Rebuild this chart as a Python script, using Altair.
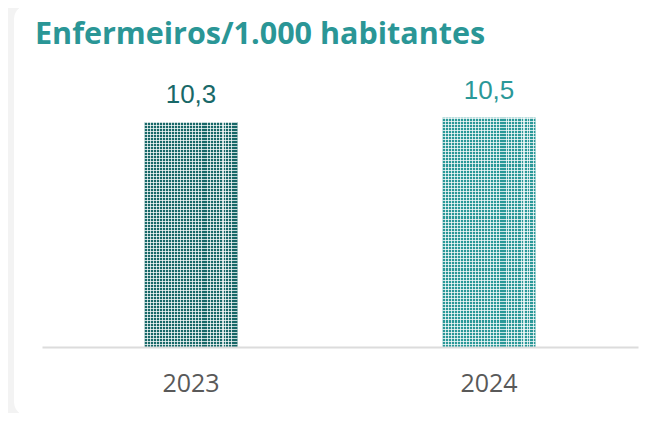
import altair as alt
import pandas as pd

years = ["2023", "2024"]
values = [10.3, 10.5]
labels = ["10,3", "10,5"]
bar_colors = ["#186868", "#2a9898"]
title_text = "Enfermeiros/1.000 habitantes"

df = pd.DataFrame({"year": years, "value": values, "label": labels, "color": bar_colors})

W, H = 596, 267


def stripes(n, vertical, alpha):
    stops = []
    for k in range(n):
        a = k / n
        b = (k + 1.0 / 3.0) / n
        c = (k + 1) / n
        stops += [
            alt.GradientStop(offset=a, color=f"rgba(255,255,255,{alpha})"),
            alt.GradientStop(offset=b, color=f"rgba(255,255,255,{alpha})"),
            alt.GradientStop(offset=b, color="rgba(255,255,255,0)"),
            alt.GradientStop(offset=c, color="rgba(255,255,255,0)"),
        ]
    if vertical:
        return alt.LinearGradient(gradient="linear", x1=0, y1=0, x2=1, y2=0, stops=stops)
    return alt.LinearGradient(gradient="linear", x1=0, y1=0, x2=0, y2=1, stops=stops)


x = alt.X("year:N", sort=years, scale=alt.Scale(paddingInner=0.69, paddingOuter=0.345),
          axis=alt.Axis(title=None, labelAngle=0, labelFont="Open Sans", labelFontSize=25,
                        labelColor="#595959", labelPadding=44, labelBaseline="alphabetic",
                        ticks=False, domainColor="#dcdcdc", domainWidth=2, zindex=1))
y = alt.Y("value:Q", scale=alt.Scale(domain=[0, 12.22], nice=False), axis=None)

base = alt.Chart(df)

card = alt.Chart(pd.DataFrame({"k": [0]})).mark_rect(
    color="white", cornerRadius=14
).encode(x=alt.value(-28), x2=alt.value(630), y=alt.value(-75), y2=alt.value(336))

bars = base.mark_bar(size=93).encode(
    x=x, y=y, color=alt.Color("color:N", scale=None)
)
hstripes = base.mark_bar(size=93, fill=stripes(75, False, 0.75)).encode(x=x, y=y)
vstripes = base.mark_bar(size=93, fill=stripes(31, True, 0.75)).encode(x=x, y=y)

text = base.mark_text(font="Liberation Sans", fontSize=26, baseline="alphabetic", dy=-19).encode(
    x=x, y=y, text="label:N", color=alt.Color("color:N", scale=None)
)

title = alt.Chart(pd.DataFrame({"t": [title_text]})).mark_text(
    font="Open Sans", fontWeight="bold", fontSize=30.5, color="#2a9696", align="left", baseline="alphabetic"
).encode(x=alt.value(-7), y=alt.value(-36), text="t:N")

chart = alt.layer(card, bars, hstripes, vstripes, text, title).properties(
    width=W, height=H,
    background="#f3f3f3",
    padding={"left": 34, "top": 72, "right": 8, "bottom": 66},
    autosize=alt.AutoSizeParams(type="none"),
).configure_view(stroke=None)

chart.save("out.html", embed_options={"renderer": "svg", "actions": False})
